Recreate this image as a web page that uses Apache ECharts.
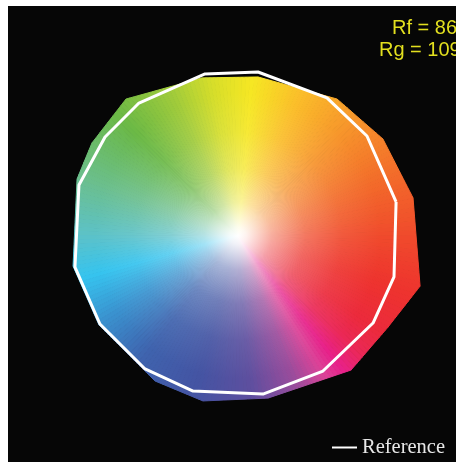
<!DOCTYPE html>
<html lang="en">
<head>
<meta charset="UTF-8">
<title>Color vector graphic</title>
<style>
  * { margin: 0; padding: 0; }
  body { background: #ffffff; }
  #chart { position: absolute; left: 8px; top: 6px; width: 448px; height: 456px; background: #060606; }
</style>
</head>
<body>
<div id="chart"></div>
<script src="https://cdn.jsdelivr.net/npm/echarts@6/dist/echarts.min.js"></script>
<script>
// test source, 16 hue bins (normalised a', b'), counter-clockwise from bin 1
var testX = [1.094, 0.906, 0.619, 0.125, -0.225, -0.700, -0.913, -1.006, -1.031, -0.869, -0.519, -0.219, 0.188, 0.706, 0.938, 1.138];
var testY = [0.238, 0.606, 0.856, 0.994, 0.988, 0.856, 0.581, 0.356, -0.188, -0.556, -0.906, -1.031, -1.013, -0.838, -0.569, -0.313];
// reference source
var refX = [0.988, 0.806, 0.556, 0.125, -0.206, -0.619, -0.831, -0.994, -1.019, -0.863, -0.581, -0.281, 0.156, 0.531, 0.844, 0.975];
var refY = [0.213, 0.625, 0.863, 1.025, 1.013, 0.831, 0.619, 0.319, -0.194, -0.550, -0.831, -0.969, -0.988, -0.844, -0.544, -0.256];
var rf = 86;
var rg = 109;

// colour wheel around the hue angle
var hueAngles = [0, 22, 45, 67, 85, 100, 115, 135, 160, 180, 195, 212, 232, 255, 275, 292, 302, 308, 316, 326, 342, 360];
var hueColors = ['#f04a2c', '#f36c2a', '#f7952b', '#fbbf2a', '#f6e723', '#d6de2a', '#a0cb3b', '#6bb946', '#6bbf8e', '#5cc2c8',
                 '#36c4ef', '#3a92cf', '#3f63ae', '#4454a3', '#5e4f9f', '#9c4c9c', '#dc4398', '#e8218a', '#eb2858', '#ec2a3c',
                 '#ee332e', '#f04a2c'];

function hex(c) {
  return [parseInt(c.slice(1, 3), 16), parseInt(c.slice(3, 5), 16), parseInt(c.slice(5, 7), 16)];
}
function mix(a, b, t) {
  return 'rgb(' + a.map(function (v, k) { return Math.round(v + (b[k] - v) * t); }).join(',') + ')';
}
function hueColor(ang) {
  ang = (ang + 360) % 360;
  for (var k = 0; k < hueAngles.length - 1; k++) {
    if (ang <= hueAngles[k + 1]) {
      var t = (ang - hueAngles[k]) / (hueAngles[k + 1] - hueAngles[k]);
      var c0 = hex(hueColors[k]), c1 = hex(hueColors[k + 1]);
      return c0.map(function (v, m) { return v + (c1[m] - v) * t; });
    }
  }
  return hex(hueColors[0]);
}
function radialStops(ang) {
  var col = hueColor(ang);
  var white = [255, 255, 255];
  return [
    { offset: 0, color: '#ffffff' },
    { offset: 0.05, color: mix(col, white, 0.92) },
    { offset: 0.2, color: mix(col, white, 0.55) },
    { offset: 0.4, color: mix(col, white, 0.25) },
    { offset: 0.62, color: mix(col, white, 0.08) },
    { offset: 0.85, color: mix(col, white, 0) }
  ];
}

function renderTest(params, api) {
  var i = params.dataIndex;
  var j = (i + 1) % testX.length;
  var c = api.coord([0, 0]);
  var a = api.coord([testX[i], testY[i]]);
  var b = api.coord([testX[j], testY[j]]);
  var R = api.coord([1.05, 0])[0] - c[0];
  var angA = Math.atan2(testY[i], testX[i]) * 180 / Math.PI;
  var angB = Math.atan2(testY[j], testX[j]) * 180 / Math.PI;
  if (angB < angA) angB += 360;
  var n = Math.max(1, Math.ceil((angB - angA) / 1.5));
  var children = [];
  for (var k = 0; k < n; k++) {
    var t0 = k / n, t1 = (k + 1) / n;
    var p0 = [a[0] + (b[0] - a[0]) * t0, a[1] + (b[1] - a[1]) * t0];
    var p1 = [a[0] + (b[0] - a[0]) * t1, a[1] + (b[1] - a[1]) * t1];
    var mx = (p0[0] + p1[0]) / 2 - c[0], my = (p0[1] + p1[1]) / 2 - c[1];
    var mid = Math.atan2(-my, mx) * 180 / Math.PI;
    var grad = new echarts.graphic.RadialGradient(c[0], c[1], R, radialStops(mid), true);
    children.push({
      type: 'polygon',
      shape: { points: [c, p0, p1] },
      style: { fill: grad, stroke: grad, lineWidth: 1 }
    });
  }
  return { type: 'group', children: children };
}

function main() {
  var chart = echarts.init(document.getElementById('chart'));
  var testData = testX.map(function (x, i) { return [x, testY[i]]; });
  var refData = refX.map(function (x, i) { return [x, refY[i]]; });
  refData.push(refData[0]);

  chart.setOption({
    backgroundColor: '#060606',
    animation: false,
    grid: { left: 6, top: 6, width: 448, height: 448, outerBoundsMode: 'none' },
    xAxis: { type: 'value', min: -1.4, max: 1.4, show: false },
    yAxis: { type: 'value', min: -1.4, max: 1.4, show: false },
    legend: {
      data: ['Reference'],
      left: 324, top: 431, padding: 0,
      icon: 'rect',
      itemWidth: 25, itemHeight: 2, itemGap: 0,
      selectedMode: false,
      textStyle: { color: '#e8e8e8', fontFamily: 'Liberation Serif', fontSize: 20.5 }
    },
    graphic: [
      { type: 'text', x: 384, y: 22.5, style: { text: 'Rf = ' + rf, verticalAlign: 'middle', fill: '#e2df1f', fontSize: 20, fontFamily: 'Liberation Sans' } },
      { type: 'text', x: 371, y: 44.5, style: { text: 'Rg = ' + rg, verticalAlign: 'middle', fill: '#e2df1f', fontSize: 20, fontFamily: 'Liberation Sans' } }
    ],
    series: [
      {
        name: 'Test',
        type: 'custom',
        renderItem: renderTest,
        encode: { x: 0, y: 1 },
        data: testData,
        clip: false,
        z: 1
      },
      {
        name: 'Reference',
        type: 'line',
        data: refData,
        symbol: 'none',
        lineStyle: { color: '#ffffff', width: 3 },
        itemStyle: { color: '#ffffff' },
        z: 2
      }
    ]
  });
}

window.addEventListener('load', main);
</script>
</body>
</html>
